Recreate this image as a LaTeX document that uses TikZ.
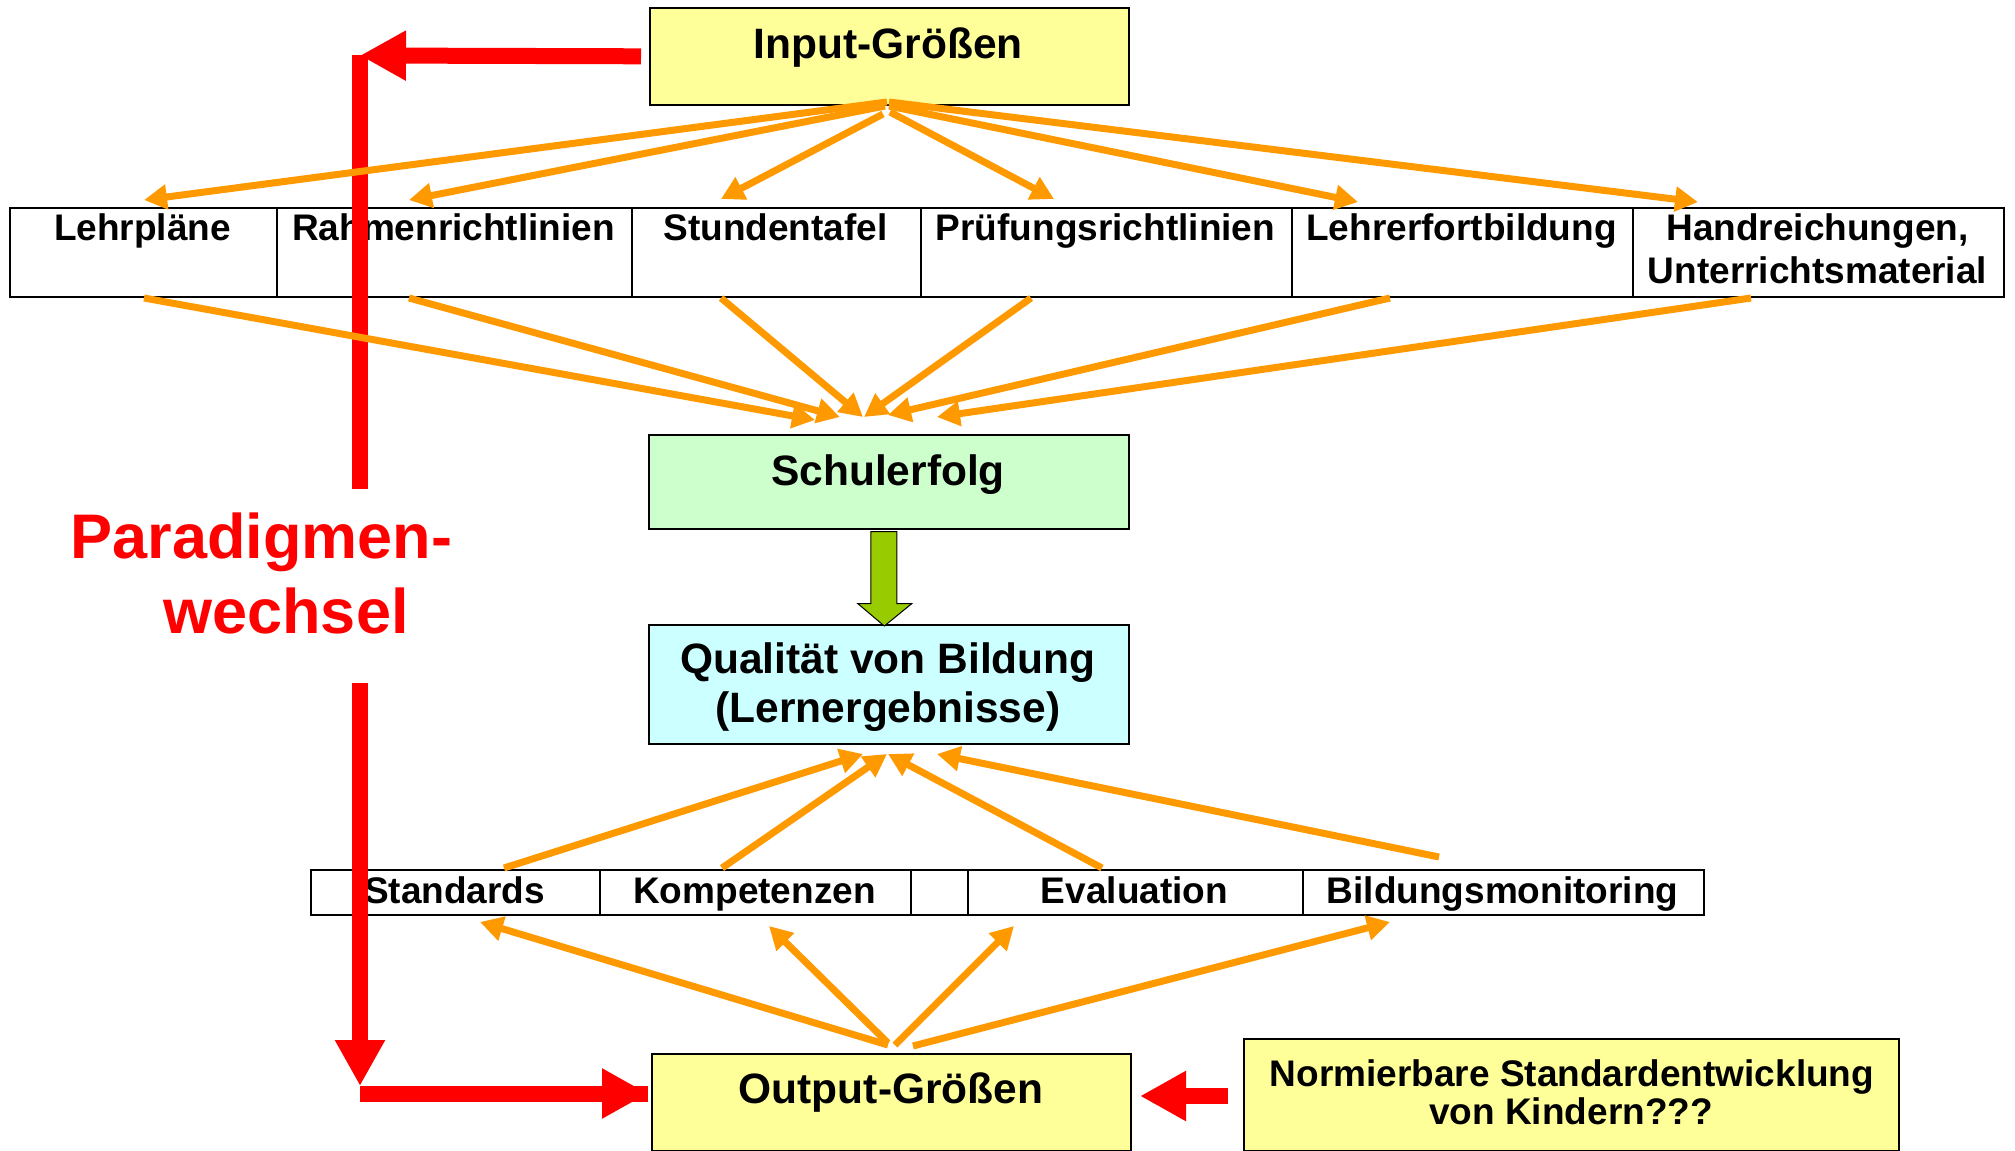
\documentclass[tikz,border=0pt]{standalone}
\usepackage{fontspec}
\setmainfont{Liberation Sans}
\usetikzlibrary{arrows.meta,calc}
\definecolor{boxyellow}{HTML}{FFFF99}
\definecolor{boxgreen}{HTML}{CCFFCC}
\definecolor{boxcyan}{HTML}{CCFFFF}
\definecolor{arrorange}{HTML}{FF9900}
\definecolor{arrgreen}{HTML}{99CC00}
\definecolor{arrred}{HTML}{FF0000}
\begin{document}
\begin{tikzpicture}[x=0.5pt,y=-0.5pt,
  box/.style={draw=black, line width=0.8pt, inner sep=0pt, anchor=north west},
  cell/.style={draw=black, line width=1pt, inner sep=0pt, anchor=north west, fill=white},
  big/.style={font=\fontsize{21.25}{25}\selectfont\bfseries, anchor=base, inner sep=0pt},
  small/.style={font=\fontsize{18.5}{22}\selectfont\bfseries, anchor=base, inner sep=0pt},
  para/.style={font=\fontsize{31.5}{36}\selectfont\bfseries, text=arrred, anchor=base, inner sep=0pt},
  oarrow/.style={draw=arrorange, line width=3.5pt, -{Triangle[length=11.5pt,width=12pt]}},
  rarrow/.style={draw=arrred, line width=8pt, -{Triangle[length=23pt,width=23.5pt]}},
  rline/.style={draw=arrred, line width=8pt},
]
\useasboundingbox (0,0) rectangle (2015,1151);
\fill[white] (0,0) rectangle (2015,1151);

% main boxes
\node[box, fill=boxyellow, minimum width=239.5pt, minimum height=48.5pt] (inp) at (649,7) {};
\node[box, fill=boxgreen, minimum width=240pt, minimum height=47pt] (sch) at (648,434) {};
\node[box, fill=boxcyan, minimum width=240pt, minimum height=59.5pt] (qual) at (648,624) {};
\node[box, fill=boxyellow, minimum width=239.5pt, minimum height=48.5pt] (out) at (651,1053) {};
\node[box, fill=boxyellow, minimum width=327.5pt, minimum height=56pt] (norm) at (1243,1038) {};

% row 1 cells
\node[cell, minimum width=133.5pt, minimum height=44.5pt] (c1) at (9,207) {};
\node[cell, minimum width=177.5pt, minimum height=44.5pt] (c2) at (276,207) {};
\node[cell, minimum width=144.5pt, minimum height=44.5pt] (c3) at (631,207) {};
\node[cell, minimum width=185.5pt, minimum height=44.5pt] (c4) at (920,207) {};
\node[cell, minimum width=170.5pt, minimum height=44.5pt] (c5) at (1291,207) {};
\node[cell, minimum width=185.5pt, minimum height=44.5pt] (c6) at (1632,207) {};

% row 2 cells
\node[cell, minimum width=144.5pt, minimum height=22.5pt] (d1) at (310,869) {};
\node[cell, minimum width=155.5pt, minimum height=22.5pt] (d2) at (599,869) {};
\node[cell, minimum width=28.5pt, minimum height=22.5pt] (d3) at (910,869) {};
\node[cell, minimum width=167.5pt, minimum height=22.5pt] (d4) at (967,869) {};
\node[cell, minimum width=200.5pt, minimum height=22.5pt] (d5) at (1302,869) {};

% texts
\node[big] (tinp) at (888,58) {Input-Größen};
\node[big] (tsch) at (888,485) {Schulerfolg};
\node[big] (tqual1) at (888,673) {Qualität von Bildung};
\node[big] (tqual2) at (888,722) {(Lernergebnisse)};
\node[big] (tout) at (891,1103) {Output-Größen};
\node[small] (tnorm1) at (1572,1086) {Normierbare Standardentwicklung};
\node[small] (tnorm2) at (1571,1124) {von Kindern???};

\node[small] (tc1) at (142.5,240) {Lehrpläne};
\node[small] (tc2) at (453.5,240) {Rahmenrichtlinien};
\node[small] (tc3) at (775.5,240) {Stundentafel};
\node[small] (tc4) at (1105.5,240) {Prüfungsrichtlinien};
\node[small] (tc5) at (1461.5,240) {Lehrerfortbildung};
\node[small] (tc6a) at (1817.5,240) {Handreichungen,};
\node[small] (tc6b) at (1817.5,283) {Unterrichtsmaterial};

\node[small] (td1) at (454.5,903) {Standards};
\node[small] (td2) at (754.5,903) {Kompetenzen};
\node[small] (td4) at (1134.5,903) {Evaluation};
\node[small] (td5) at (1502.5,903) {Bildungsmonitoring};

\node[para] (tpara1) at (261.5,558) {Paradigmen-};
\node[para] (tpara2) at (286,633) {wechsel};

% red arrows
\coordinate (rtop) at (360,55.5);
\coordinate (rmid1) at (360,489);
\coordinate (rmid2) at (360,683);
\coordinate (rbot) at (360,1086);
\coordinate (rcorner) at (360,1093.5);
\coordinate (routtip) at (648,1093.5);
\coordinate (rnormstart) at (1228,1096);
\coordinate (rnormtip) at (1140,1096);
\draw[rarrow] ($(inp.west)+(-8,0)$) -- (rtop);
\draw[rline] (360,55) -- (rmid1);
\draw[rarrow] (rmid2) -- (rbot);
\draw[rline] (rcorner) -- (routtip);
\draw[rarrow] ($(rcorner)+(200,0)$) -- (routtip);
\draw[rarrow] (rnormstart) -- (rnormtip);

% green block arrow
\draw[fill=arrgreen, draw=black, line width=0.5pt]
  ($(sch.south)+(-18,2)$) -- ++(26,0) -- ++(0,72) -- ++(15,0) -- ($(qual.north)+(-4.5,2)$)
  -- ($(sch.south)+(-31,74)$) -- ++(13,0) -- cycle;

% orange arrows: Input -> row 1
\coordinate (s1) at (887,102);
\coordinate (s2) at (885,106);
\coordinate (s3) at (883,114);
\coordinate (s4) at (890,112);
\coordinate (s5) at (889,106);
\coordinate (s6) at (889,102);
\draw[oarrow] (s1) -- (144,200);
\draw[oarrow] (s2) -- (409,200);
\draw[oarrow] (s3) -- (721,199);
\draw[oarrow] (s4) -- (1054,199);
\draw[oarrow] (s5) -- (1358,202);
\draw[oarrow] (s6) -- (1698,202);

% row 1 -> Schulerfolg
\coordinate (m1) at (815,420);
\coordinate (m2) at (840,417);
\coordinate (m3) at (863,417);
\coordinate (m4) at (864,417);
\coordinate (m5) at (888,415);
\coordinate (m6) at (937,417);
\draw[oarrow] (144,298) -- (m1);
\draw[oarrow] (409,298) -- (m2);
\draw[oarrow] (721,298) -- (m3);
\draw[oarrow] (1031,298) -- (m4);
\draw[oarrow] (1390,298) -- (m5);
\draw[oarrow] (1751,298) -- (m6);

% row 2 -> Qualitaet
\draw[oarrow] (504,868) -- (863,754);
\draw[oarrow] (722,868) -- (887,754);
\draw[oarrow] (1102,868) -- (888,754);
\draw[oarrow] (1439,857) -- (937,754);

% Output -> row 2
\draw[oarrow] (888,1045) -- (480,922);
\draw[oarrow] (888,1043) -- (769,926);
\draw[oarrow] (895,1045) -- (1014,926);
\draw[oarrow] (913,1046) -- (1390,922);
\end{tikzpicture}
\end{document}
